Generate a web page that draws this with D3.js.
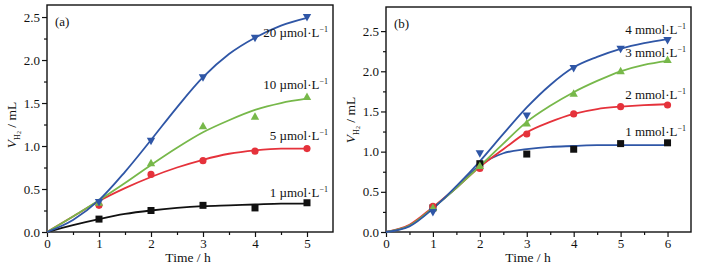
<!DOCTYPE html>
<html>
<head>
<meta charset="utf-8">
<script src="https://cdn.jsdelivr.net/npm/d3@7"></script>
<style>
  body { margin: 0; background: #fff; }
  svg text { font-family: "Times New Roman", "Liberation Serif", Times, serif; fill: #111; }
</style>
</head>
<body>
<div id="chart"></div>
<script>
// ---- data ----
var timesA = [1, 2, 3, 4, 5];
var pointsA1 = [0.15, 0.25, 0.31, 0.28, 0.34];
var pointsA5 = [0.31, 0.67, 0.83, 0.94, 0.97];
var pointsA10 = [0.34, 0.80, 1.23, 1.34, 1.57];
var pointsA20 = [0.35, 1.06, 1.80, 2.26, 2.50];

var fitTimesA = [0, 0.5, 1, 1.5, 2, 2.5, 3, 3.5, 4, 4.5, 5];
var fitA1 = [0, 0.08, 0.15, 0.21, 0.25, 0.28, 0.30, 0.31, 0.32, 0.33, 0.33];
var fitA5 = [0, 0.18, 0.36, 0.51, 0.64, 0.75, 0.84, 0.91, 0.95, 0.97, 0.97];
var fitA10 = [0, 0.18, 0.37, 0.57, 0.78, 0.98, 1.16, 1.30, 1.42, 1.50, 1.55];
var fitA20 = [0, 0.14, 0.37, 0.70, 1.07, 1.45, 1.80, 2.07, 2.26, 2.40, 2.49];

var timesB = [1, 2, 3, 4, 5, 6];
var pointsB1 = [0.30, 0.85, 0.97, 1.03, 1.10, 1.11];
var pointsB2 = [0.32, 0.79, 1.22, 1.47, 1.56, 1.58];
var pointsB3 = [0.30, 0.82, 1.35, 1.72, 2.00, 2.14];
var pointsB4 = [0.25, 0.98, 1.45, 2.04, 2.28, 2.39];

var fitTimesB = [0, 0.5, 1, 1.5, 2, 2.5, 3, 3.5, 4, 4.5, 5, 5.5, 6];
var fitB1 = [0, 0.08, 0.30, 0.55, 0.83, 0.98, 1.03, 1.06, 1.07, 1.08, 1.08, 1.08, 1.08];
var fitB2 = [0, 0.09, 0.31, 0.55, 0.81, 1.03, 1.24, 1.37, 1.47, 1.53, 1.56, 1.58, 1.59];
var fitB3 = [0, 0.08, 0.30, 0.55, 0.82, 1.10, 1.37, 1.57, 1.74, 1.88, 2.00, 2.08, 2.13];
var fitB4 = [0, 0.07, 0.29, 0.57, 0.88, 1.22, 1.55, 1.83, 2.05, 2.18, 2.28, 2.35, 2.40];

var labelsA = ["1", "5", "10", "20"];
var labelsB = ["1", "2", "3", "4"];
var labelYA = [0.45, 1.12, 1.71, 2.32];
var labelYB = [1.24, 1.70, 2.23, 2.51];

var yTicks = [0, 0.5, 1.0, 1.5, 2.0, 2.5];

var blue = "#2f56a6", green = "#77b84a", red = "#e5323b", black = "#111";
var serif = "'Times New Roman', 'Liberation Serif', Times, serif";

var w = 702, h = 266;
var svg = d3.select("#chart").append("svg").attr("width", w).attr("height", h);

function panel(opt) {
  var x = d3.scaleLinear().domain([0, opt.xMax]).range([opt.left, opt.right]);
  var y = d3.scaleLinear().domain([0, opt.yMax]).range([232, opt.top]);
  var g = svg.append("g");

  // minor ticks
  var xMinor = d3.range(0.5, opt.xMax, 1);
  var yMinor = d3.range(0.25, 2.6, 0.5);
  g.append("g").attr("transform", "translate(0,232)")
    .call(d3.axisBottom(x).tickValues(xMinor).tickSize(3).tickFormat(""))
    .call(function(s) { s.select(".domain").remove(); });
  g.append("g").attr("transform", "translate(" + opt.left + ",0)")
    .call(d3.axisLeft(y).tickValues(yMinor).tickSize(3).tickFormat(""))
    .call(function(s) { s.select(".domain").remove(); });

  // major axes
  var xa = g.append("g").attr("transform", "translate(0,232)")
    .call(d3.axisBottom(x).tickValues(d3.range(0, opt.xMax, 1)).tickSize(5).tickPadding(2).tickFormat(d3.format("d")));
  var ya = g.append("g").attr("transform", "translate(" + opt.left + ",0)")
    .call(d3.axisLeft(y).tickValues(yTicks).tickSize(5).tickPadding(2).tickFormat(d3.format(".1f")));
  [xa, ya].forEach(function(a) {
    a.attr("font-family", serif);
    a.select(".domain").remove();
    a.selectAll("text").style("font-size", "13px").attr("fill", "#111");
  });
  g.selectAll(".tick line").attr("stroke", "#111").attr("stroke-width", 1.2);

  // frame
  g.append("rect").attr("x", opt.left).attr("y", opt.top)
    .attr("width", opt.right - opt.left).attr("height", 232 - opt.top)
    .attr("fill", "none").attr("stroke", "#111").attr("stroke-width", 1.4);

  // fit curves
  var line = d3.line()
    .x(function(d) { return x(d[0]); })
    .y(function(d) { return y(d[1]); })
    .curve(d3.curveMonotoneX);
  opt.series.forEach(function(s) {
    g.append("path")
      .datum(opt.fitTimes.map(function(t, i) { return [t, s.fit[i]]; }))
      .attr("d", line).attr("fill", "none")
      .attr("stroke", s.lineColor).attr("stroke-width", 1.8);
  });

  // markers
  opt.series.forEach(function(s) {
    var pts = opt.times.map(function(t, i) { return [t, s.pts[i]]; });
    g.selectAll(null).data(pts).enter().append("path")
      .attr("transform", function(d) { return "translate(" + x(d[0]) + "," + y(d[1]) + ")"; })
      .attr("d", function() {
        if (s.shape === "square") return "M-3.5,-3.5H3.5V3.5H-3.5Z";
        if (s.shape === "circle") return d3.symbol(d3.symbolCircle, 40)();
        if (s.shape === "up") return "M0,-4.5L4.2,3L-4.2,3Z";
        return "M0,4.5L4.2,-3L-4.2,-3Z";
      })
      .attr("fill", s.color);
  });

  // series labels
  opt.series.forEach(function(s) {
    var t = g.append("text").attr("x", opt.labelX).attr("y", y(s.labelY) + 4)
      .attr("text-anchor", "end").style("font-size", "13px");
    t.append("tspan").text(s.label + " " + opt.unit + "\u00b7L");
    t.append("tspan").attr("dy", -5).style("font-size", "8px").text("\u22121");
  });

  // panel tag
  g.append("text").attr("x", opt.left + 8).attr("y", opt.top + 21)
    .style("font-size", "13px").text(opt.tag);

  // axis titles
  g.append("text").attr("x", opt.xTitle).attr("y", 262).attr("text-anchor", "middle")
    .style("font-size", "13.5px").text("Time / h");
  var yt = g.append("text").attr("transform", "translate(" + opt.yTitleX + "," + opt.yTitleY + ") rotate(-90)")
    .attr("text-anchor", "middle").style("font-size", "13.5px");
  yt.append("tspan").style("font-style", "italic").text("V");
  yt.append("tspan").attr("dy", 4).style("font-size", "8px").text("H");
  yt.append("tspan").attr("dy", 1).style("font-size", "6px").text("2");
  yt.append("tspan").attr("dy", -5).text(" / mL");
}

panel({
  left: 47, right: 333, top: 5, xMax: 5.5, yMax: 2.64,
  times: timesA, fitTimes: fitTimesA, unit: "\u00b5mol", tag: "(a)",
  labelX: 328, xTitle: 188, yTitleX: 16, yTitleY: 125,
  series: [
    { pts: pointsA1, fit: fitA1, color: black, lineColor: black, shape: "square", label: labelsA[0], labelY: labelYA[0] },
    { pts: pointsA5, fit: fitA5, color: red, lineColor: red, shape: "circle", label: labelsA[1], labelY: labelYA[1] },
    { pts: pointsA10, fit: fitA10, color: green, lineColor: green, shape: "up", label: labelsA[2], labelY: labelYA[2] },
    { pts: pointsA20, fit: fitA20, color: blue, lineColor: blue, shape: "down", label: labelsA[3], labelY: labelYA[3] }
  ]
});

panel({
  left: 386, right: 691, top: 7, xMax: 6.5, yMax: 2.8,
  times: timesB, fitTimes: fitTimesB, unit: "mmol", tag: "(b)",
  labelX: 686, xTitle: 528, yTitleX: 355, yTitleY: 120,
  series: [
    { pts: pointsB1, fit: fitB1, color: black, lineColor: blue, shape: "square", label: labelsB[0], labelY: labelYB[0] },
    { pts: pointsB2, fit: fitB2, color: red, lineColor: red, shape: "circle", label: labelsB[1], labelY: labelYB[1] },
    { pts: pointsB3, fit: fitB3, color: green, lineColor: green, shape: "up", label: labelsB[2], labelY: labelYB[2] },
    { pts: pointsB4, fit: fitB4, color: blue, lineColor: blue, shape: "down", label: labelsB[3], labelY: labelYB[3] }
  ]
});
</script>
</body>
</html>
